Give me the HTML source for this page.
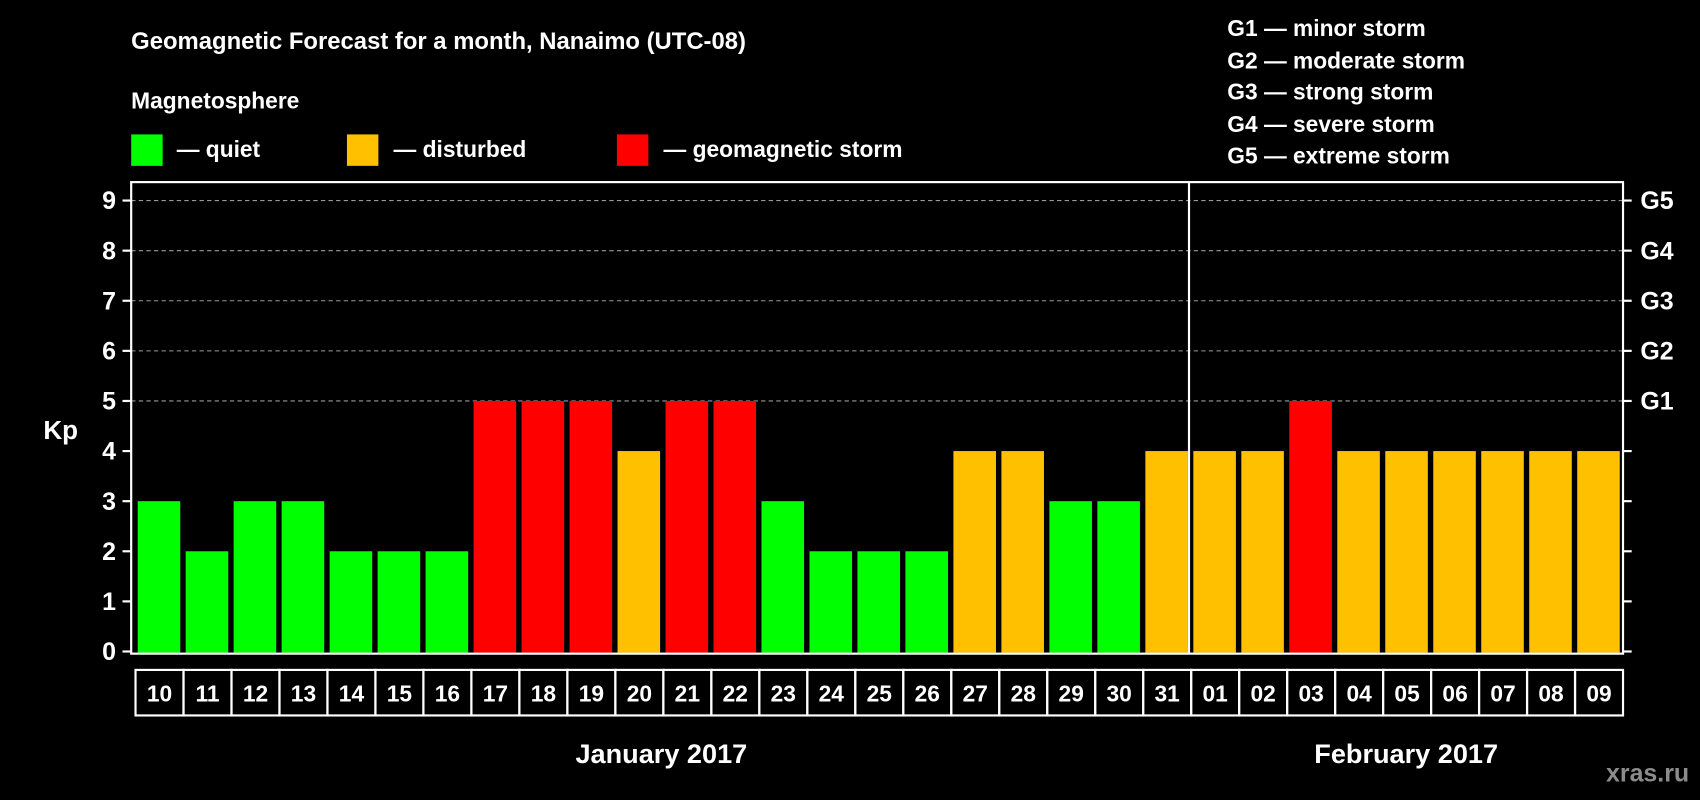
<!DOCTYPE html>
<html><head><meta charset="utf-8"><style>
html,body{margin:0;padding:0;background:#000;}
svg{display:block;}
text{font-family:"Liberation Sans",Arial,sans-serif;font-weight:bold;fill:#fff;}
</style></head><body>
<svg id="chart" width="1700" height="800" viewBox="0 0 1568 738" preserveAspectRatio="none" xmlns="http://www.w3.org/2000/svg">
<rect x="0" y="0" width="1568" height="738" fill="#000"/>
<text x="121" y="45" font-size="22">Geomagnetic Forecast for a month, Nanaimo (UTC-08)</text>
<text x="121" y="100" font-size="21">Magnetosphere</text>
<rect x="121" y="124" width="29" height="29" fill="#00ff00"/>
<text x="163" y="145" font-size="21">— quiet</text>
<rect x="320" y="124" width="29" height="29" fill="#ffc000"/>
<text x="363" y="145" font-size="21">— disturbed</text>
<rect x="569" y="124" width="29" height="29" fill="#ff0000"/>
<text x="612" y="145" font-size="21">— geomagnetic storm</text>
<g font-size="21">
<text x="1132" y="33">G1 — minor storm</text>
<text x="1132" y="63">G2 — moderate storm</text>
<text x="1132" y="92">G3 — strong storm</text>
<text x="1132" y="122">G4 — severe storm</text>
<text x="1132" y="151">G5 — extreme storm</text>
</g>
<text x="40" y="405" font-size="24">Kp</text>
<g id="grid"></g>
<g id="bars"></g>
<g id="axes"></g>
<text x="610" y="704" font-size="25" text-anchor="middle">January 2017</text>
<text x="1297" y="704" font-size="25" text-anchor="middle">February 2017</text>
<text x="1558" y="721" font-size="23" text-anchor="end" style="fill:#8c8c8c">xras.ru</text>
</svg>
<script>
const days = ["10","11","12","13","14","15","16","17","18","19","20","21","22","23","24","25","26","27","28","29","30","31","01","02","03","04","05","06","07","08","09"];
const kpValues = [3,2,3,3,2,2,2,5,5,5,4,5,5,3,2,2,2,4,4,3,3,4,4,4,5,4,4,4,4,4,4];
const yTicks = [0,1,2,3,4,5,6,7,8,9];
const stormTicks = ["","","","","","G1","G2","G3","G4","G5"];
const NS="http://www.w3.org/2000/svg";
const L=121,R=1497,T=168,B=603,slot0=125,slotW=(1497-125)/days.length;
function y(v){return 601-v*(601-185)/9;}
function x(i){return slot0+i*slotW;}
function mk(tag,attrs,parent){const e=document.createElementNS(NS,tag);for(const k in attrs)e.setAttribute(k,attrs[k]);parent.appendChild(e);return e;}
const grid=document.getElementById('grid'),bars=document.getElementById('bars'),axes=document.getElementById('axes');
yTicks.forEach((v,i)=>{
  if(v>=5){const g=mk('line',{x1:L,x2:R,y1:y(v),y2:y(v),stroke:'#999','stroke-width':1,'stroke-dasharray':'4,3'},grid);
  
  }
  const t1=mk('line',{x1:L-8,x2:L,y1:y(v),y2:y(v),stroke:'#fff','stroke-width':2},axes);
  
  
  const t2=mk('line',{x1:R,x2:R+8,y1:y(v),y2:y(v),stroke:'#fff','stroke-width':2},axes);
  
  
  const lb=mk('text',{x:107,y:y(v)+8,'font-size':23,'text-anchor':'end'},axes);lb.textContent=v;
  
  
  if(stormTicks[i]){const s=mk('text',{x:1513,y:y(v)+8,'font-size':23},axes);s.textContent=stormTicks[i];
  
  }
});
kpValues.forEach((v,i)=>{
  const c=v>=5?'#ff0000':(v>=4?'#ffc000':'#00ff00');
  const b=mk('rect',{x:x(i)+2,y:y(v),width:slotW-5,height:y(0)+1-y(v),fill:c},bars);
  
  
  const bx=mk('rect',{x:x(i),y:618,width:slotW,height:42,fill:'none',stroke:'#fff','stroke-width':2},axes);
  
  
  const t=mk('text',{x:x(i)+slotW/2,y:647,'font-size':21,'text-anchor':'middle'},axes);t.textContent=days[i];
  
  
});
const fr=mk('rect',{x:L,y:T,width:R-L,height:B-T,fill:'none',stroke:'#fff','stroke-width':2},axes);


const div=mk('line',{x1:x(22)-2,x2:x(22)-2,y1:T,y2:B,stroke:'#fff','stroke-width':2},axes);


</script>
</body></html>
